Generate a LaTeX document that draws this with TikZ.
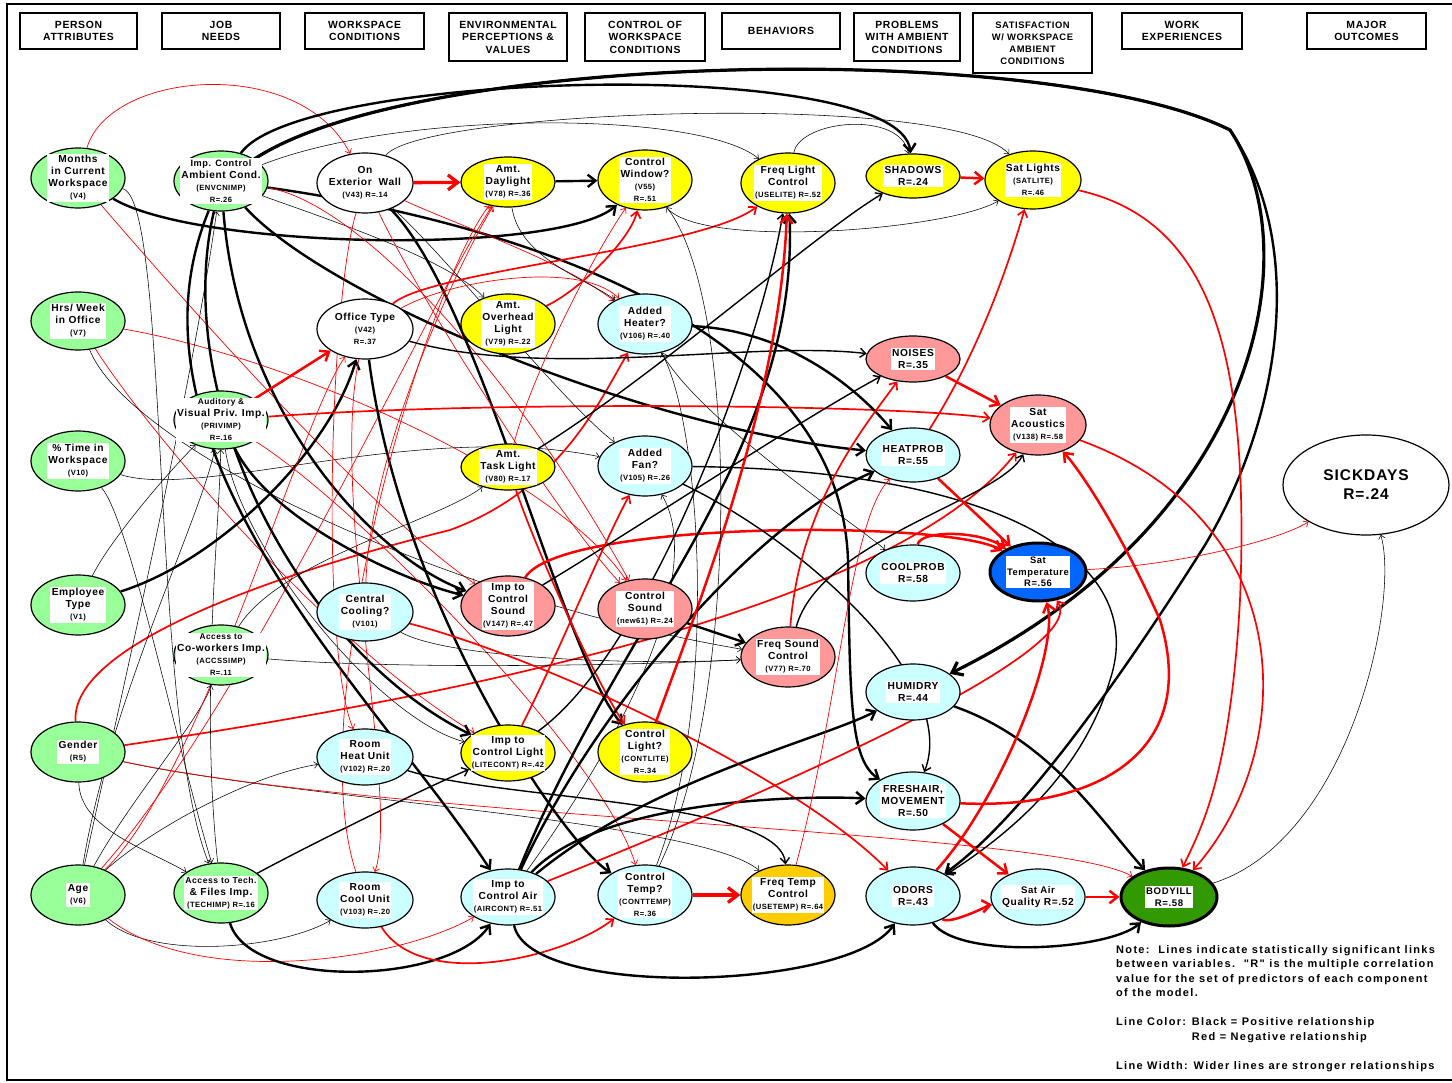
\documentclass[tikz,border=0pt]{standalone}
\usepackage{fontspec}
\setmainfont[LetterSpace=6]{Liberation Sans}
\newfontfamily\notefont[LetterSpace=12]{Liberation Sans}
\usetikzlibrary{shapes.geometric,arrows.meta,backgrounds}

\definecolor{cGrn}{HTML}{99FF99}
\definecolor{cCyn}{HTML}{CCFFFF}
\definecolor{cPnk}{HTML}{FF9999}
\definecolor{cYel}{HTML}{FFFF00}
\definecolor{cOrg}{HTML}{FFCC00}
\definecolor{cBlu}{HTML}{0066FF}
\definecolor{cDgr}{HTML}{339900}
\definecolor{cRed}{HTML}{FF0000}

\newcommand\sm[1]{{\fontsize{7.6}{9.5}\selectfont #1}}
% variable node: name, x, y, fill, width, height, label
\newcommand\vn[7]{%
  \node[var,fill=#4,minimum width=#5pt,minimum height=#6pt] (#1) at (#2,#3) {};
  \node[lab] at (#1.center) {#7};}

\tikzset{
  var/.style={ellipse, draw, line width=1.2pt, inner sep=0pt},
  lab/.style={fill=white, inner sep=1.3pt, align=center,
    font=\bfseries\fontsize{10.2}{12}\selectfont},
  hdr/.style={draw, line width=1.2pt, align=center, inner sep=0pt,
    font=\bfseries\fontsize{10.4}{12.5}\selectfont},
  lnk/.style={-{Straight Barb[length=2.5pt 2.2,width=5pt 3]}},
  p1/.style={lnk, line width=0.55pt},
  p2/.style={lnk, line width=1.4pt},
  p3/.style={lnk, line width=2.4pt},
  p4/.style={lnk, line width=3.2pt},
  n1/.style={lnk, line width=0.7pt, draw=cRed},
  n2/.style={lnk, line width=1.7pt, draw=cRed},
  n3/.style={lnk, line width=2.5pt, draw=cRed},
  n4/.style={lnk, line width=3.3pt, draw=cRed},
}

\begin{document}
\begin{tikzpicture}[x=1pt,y=-1pt]
\useasboundingbox (0,0) rectangle (1452,1083);
% frame
\draw[line width=1.6pt] (1460,4) -- (7,4) -- (7,1080) -- (1460,1080);

% column headers
\node[hdr,minimum width=117pt,minimum height=36pt] (h1) at (78.5,31) {PERSON\\ATTRIBUTES};
\node[hdr,minimum width=118pt,minimum height=36pt] (h2) at (221,31) {JOB\\NEEDS};
\node[hdr,minimum width=119pt,minimum height=36pt] (h3) at (364.5,31) {WORKSPACE\\CONDITIONS};
\node[hdr,minimum width=118pt,minimum height=48pt] (h4) at (508,37) {ENVIRONMENTAL\\PERCEPTIONS \&\\VALUES};
\node[hdr,minimum width=120pt,minimum height=48pt] (h5) at (645,37) {CONTROL OF\\WORKSPACE\\CONDITIONS};
\node[hdr,minimum width=118pt,minimum height=36pt] (h6) at (781,31) {BEHAVIORS};
\node[hdr,minimum width=106pt,minimum height=48pt] (h7) at (907,37) {PROBLEMS\\WITH AMBIENT\\CONDITIONS};
\node[hdr,minimum width=119pt,minimum height=60pt,font=\bfseries\fontsize{9.4}{12}\selectfont] (h8) at (1032.5,43) {SATISFACTION\\W/ WORKSPACE\\AMBIENT\\CONDITIONS};
\node[hdr,minimum width=120pt,minimum height=36pt] (h9) at (1182,31) {WORK\\EXPERIENCES};
\node[hdr,minimum width=119pt,minimum height=36pt] (h10) at (1366.5,31) {MAJOR\\OUTCOMES};

% person attributes
\vn{mon}{78}{178}{cGrn}{94}{60}{Months\\in Current\\Workspace\\\sm{(V4)}}
\vn{hrs}{78}{321}{cGrn}{94}{58}{Hrs/ Week\\in Office\\\sm{(V7)}}
\vn{ptime}{78}{461}{cGrn}{94}{60}{\% Time in\\Workspace\\\sm{(V10)}}
\vn{emp}{78}{605}{cGrn}{94}{60}{Employee\\Type\\\sm{(V1)}}
\vn{gen}{78}{752}{cGrn}{94}{60}{Gender\\\sm{(R5)}}
\vn{age}{78}{895}{cGrn}{94}{60}{Age\\\sm{(V6)}}
% job needs
\vn{imp}{221}{181}{cGrn}{94}{60}{\fontsize{9.2}{10.6}\selectfont Imp. Control\\Ambient Cond.\\\sm{(ENVCNIMP)}\\\sm{R=.26}}
\vn{aud}{221}{420}{cGrn}{94}{58}{\fontsize{8.3}{10.4}\selectfont Auditory \&\\Visual Priv. Imp.\\\sm{(PRIVIMP)}\\\sm{R=.16}}
\vn{acc}{221}{655}{cGrn}{94}{60}{\fontsize{8.3}{10.4}\selectfont Access to\\Co-workers Imp.\\\sm{(ACCSSIMP)}\\\sm{R=.11}}
\vn{tech}{221}{893}{cGrn}{94}{60}{\fontsize{8.6}{10.6}\selectfont Access to Tech.\\\& Files Imp.\\\sm{(TECHIMP) R=.16}}
% workspace conditions
\vn{ext}{365}{183}{white}{96}{60}{On\\Exterior\ \ Wall\\\sm{(V43) R=.14}}
\vn{off}{365}{329}{white}{96}{60}{Office Type\\\sm{(V42)}\\\sm{R=.37}}
\vn{cool}{365}{612}{cCyn}{96}{58}{Central\\Cooling?\\\sm{(V101)}}
\vn{rheat}{365}{757}{cCyn}{96}{56}{Room\\Heat Unit\\\sm{(V102) R=.20}}
\vn{rcool}{365}{900}{cCyn}{96}{56}{Room\\Cool Unit\\\sm{(V103) R=.20}}
% environmental perceptions
\vn{day}{508}{182}{cYel}{94}{50}{Amt.\\Daylight\\\sm{(V78) R=.36}}
\vn{over}{508}{324}{cYel}{94}{60}{Amt.\\Overhead\\Light\\\sm{(V79) R=.22}}
\vn{task}{508}{467}{cYel}{94}{46}{Amt.\\Task Light\\\sm{(V80) R=.17}}
\vn{isnd}{508}{606}{cPnk}{94}{60}{Imp to\\Control\\Sound\\\sm{(V147) R=.47}}
\vn{ilit}{508}{753}{cYel}{94}{56}{Imp to\\Control Light\\\sm{(LITECONT) R=.42}}
\vn{iair}{508}{897}{cCyn}{94}{56}{Imp to\\Control Air\\\sm{(AIRCONT) R=.51}}
% control
\vn{cwin}{645}{180}{cYel}{94}{60}{Control\\Window?\\\sm{(V55)}\\\sm{R=.51}}
\vn{heat}{645}{324}{cCyn}{94}{60}{Added\\Heater?\\\sm{(V106) R=.40}}
\vn{fan}{645}{466}{cCyn}{94}{60}{Added\\Fan?\\\sm{(V105) R=.26}}
\vn{csnd}{645}{609}{cPnk}{94}{60}{Control\\Sound\\\sm{(new61) R=.24}}
\vn{clit}{645}{752}{cYel}{94}{60}{Control\\Light?\\\sm{(CONTLITE)}\\\sm{R=.34}}
\vn{ctmp}{645}{895}{cCyn}{94}{60}{Control\\Temp?\\\sm{(CONTTEMP)}\\\sm{R=.36}}
% behaviors
\vn{flit}{788}{183}{cYel}{94}{60}{Freq Light\\Control\\\sm{(USELITE) R=.52}}
\vn{fsnd}{788}{657}{cPnk}{94}{60}{Freq Sound\\Control\\\sm{(V77) R=.70}}
\vn{ftmp}{788}{895}{cOrg}{94}{60}{Freq Temp\\Control\\\sm{(USETEMP) R=.64}}
% problems
\vn{shd}{913}{176}{cYel}{94}{44}{SHADOWS\\R=.24}
\vn{noi}{913}{359}{cPnk}{94}{46}{NOISES\\R=.35}
\vn{hpr}{913}{455}{cCyn}{94}{54}{HEATPROB\\R=.55}
\vn{cpr}{913}{573}{cCyn}{94}{56}{COOLPROB\\R=.58}
\vn{hum}{913}{692}{cCyn}{94}{56}{HUMIDRY\\R=.44}
\vn{fre}{913}{801}{cCyn}{94}{58}{FRESHAIR,\\MOVEMENT\\R=.50}
\vn{odo}{913}{896}{cCyn}{94}{58}{ODORS\\R=.43}
% satisfaction
\vn{slit}{1033}{180}{cYel}{96}{58}{Sat Lights\\\sm{(SATLITE)}\\\sm{R=.46}}
\vn{sacu}{1038}{425}{cPnk}{96}{60}{Sat\\Acoustics\\\sm{(V138) R=.58}}
\node[var,line width=3pt,fill=cBlu,minimum width=96pt,minimum height=58pt] (stmp) at (1038,572) {};
\node[lab,font=\bfseries\fontsize{9.4}{11.5}\selectfont] at (stmp.center) {Sat\\Temperature\\R=.56};
\vn{sair}{1038}{897}{cCyn}{94}{56}{\fontsize{9.6}{12}\selectfont Sat Air\\Quality R=.52}
% outcomes
\node[var,line width=3pt,fill=cDgr,minimum width=96pt,minimum height=58pt] (body) at (1169,897) {};
\node[lab,font=\bfseries\fontsize{9.6}{12}\selectfont] at (body.center) {BODYILL\\R=.58};
\node[var,fill=white,minimum width=166pt,minimum height=100pt] (sick) at (1366,485) {};
\node[font=\bfseries\fontsize{15.5}{19}\selectfont,align=center] at (sick.center) {SICKDAYS\\R=.24};

% legend
\node[anchor=north west,align=left,inner sep=0pt,font=\notefont\bfseries\fontsize{11}{14.5}\selectfont] (note) at (1116,945)
 {Note:\ \ Lines indicate statistically significant links\\
  between variables.\ \ "R" is the multiple correlation\\
  value for the set of predictors of each component\\
  of the model.\\[14.5pt]
  Line Color: Black = Positive relationship\\
  \phantom{Line Color: }Red = Negative relationship\\[14.5pt]
  Line Width: Wider lines are stronger relationships};

\begin{scope}[on background layer]
\fill[white] (0,0) rectangle (1452,1083);
% person attributes
\draw[n1] (mon) .. controls (110,70) and (300,55) .. (ext);
\draw[p3] (mon) .. controls (200,250) and (560,255) .. (cwin);
\draw[n1] (mon) .. controls (200,320) and (380,520) .. (isnd);
\draw[p1] (mon) .. controls (170,200) and (150,720) .. (tech);
\draw[n1] (hrs) .. controls (140,420) and (320,640) .. (ilit);
\draw[n1] (hrs) .. controls (300,360) and (560,480) .. (csnd);
\draw[p1] (hrs) .. controls (130,450) and (450,600) .. (fsnd);
\draw[p1] (ptime) .. controls (200,500) and (420,420) .. (fan);
\draw[p1] (ptime) .. controls (130,520) and (180,760) .. (tech);
\draw[p3] (emp) .. controls (220,560) and (330,450) .. (off);
\draw[p1] (emp) .. controls (110,540) and (170,470) .. (aud);
\draw[p1] (gen) .. controls (80,830) and (150,850) .. (tech);
\draw[p1] (gen) .. controls (300,800) and (700,820) .. (ftmp);
\draw[n1] (gen) .. controls (400,820) and (1050,830) .. (body);
\draw[n2] (gen) .. controls (500,690) and (900,600) .. (sacu);
\draw[n2] (gen) .. controls (70,650) and (250,580) .. (450,530) .. controls (560,490) and (600,400) .. (heat);
\draw[p1] (age) .. controls (120,700) and (190,400) .. (imp);
\draw[p1] (age) .. controls (110,700) and (200,520) .. (aud);
\draw[p1] (age) .. controls (130,800) and (200,720) .. (acc);
\draw[p1] (age) .. controls (150,830) and (250,775) .. (rheat);
\draw[p1] (age) .. controls (150,960) and (280,950) .. (rcool);
\draw[n1] (age) .. controls (250,700) and (430,300) .. (day);
\draw[n1] (age) .. controls (200,780) and (300,420) .. (off);
\draw[n1] (age) .. controls (200,990) and (400,960) .. (iair);
% job needs
\draw[p3] (imp) .. controls (300,70) and (900,55) .. (shd);
\draw[p4] (imp) .. controls (420,50) and (1050,40) .. (1230,130) .. controls (1310,250) and (1260,520) .. (hum);
\draw[p3] (imp) .. controls (420,50) and (1050,40) .. (1230,130) .. controls (1305,240) and (1285,410) .. (1205,545) .. controls (1120,680) and (1020,820) .. (odo);
\draw[p3] (imp) .. controls (500,220) and (840,320) .. (848,560) .. controls (850,700) and (850,760) .. (fre);
\draw[p3] (imp) .. controls (330,300) and (650,430) .. (hpr);
\draw[p3] (imp) .. controls (240,420) and (380,560) .. (isnd);
\draw[p3] (imp) .. controls (170,400) and (300,650) .. (ilit);
\draw[p3] (imp) .. controls (110,450) and (380,700) .. (iair);
\draw[p1] (imp) .. controls (330,220) and (450,260) .. (over);
\draw[p1] (imp) .. controls (400,110) and (700,110) .. (flit);
\draw[n1] (imp) .. controls (350,200) and (500,350) .. (csnd);
\draw[n3] (aud) -- (off);
\draw[n2] (aud) .. controls (500,400) and (900,405) .. (sacu);
\draw[p3] (aud) .. controls (270,520) and (400,580) .. (isnd);
\draw[p1] (aud) .. controls (240,550) and (380,720) .. (ilit);
\draw[n1] (aud) .. controls (350,500) and (600,750) .. (ctmp);
\draw[p1] (acc) .. controls (400,670) and (650,665) .. (fsnd);
\draw[p1] (acc) .. controls (280,560) and (440,520) .. (task);
\draw[p2] (tech) .. controls (300,850) and (420,790) .. (ilit);
\draw[p3] (tech) .. controls (250,990) and (450,985) .. (iair);
\draw[p1] (tech) .. controls (200,700) and (220,520) .. (aud);
% workspace conditions
\draw[n4] (ext) -- (day);
\draw[n1] (ext) .. controls (470,230) and (560,260) .. (heat);
\draw[p1] (ext) .. controls (450,260) and (560,400) .. (fan);
\draw[p3] (ext) .. controls (480,300) and (560,650) .. (clit);
\draw[n1] (ext) .. controls (330,300) and (320,650) .. (rheat);
\draw[n1] (ext) .. controls (420,300) and (560,520) .. (csnd);
\draw[p1] (ext) .. controls (420,110) and (950,90) .. (slit);
\draw[n2] (off) .. controls (430,270) and (700,250) .. (flit);
\draw[n1] (off) .. controls (450,280) and (580,260) .. (heat);
\draw[p2] (off) .. controls (550,380) and (750,340) .. (noi);
\draw[p3] (off) .. controls (400,600) and (560,840) .. (ctmp);
\draw[n1] (off) .. controls (330,500) and (400,800) .. (rcool);
\draw[p1] (cool) .. controls (450,660) and (650,665) .. (fsnd);
\draw[n2] (cool) .. controls (550,660) and (800,780) .. (odo);
\draw[n1] (cool) .. controls (370,450) and (460,260) .. (day);
\draw[p2] (rheat) .. controls (500,800) and (780,800) .. (ftmp);
\draw[n2] (rcool) .. controls (420,990) and (560,960) .. (ctmp);
\draw[n1] (rcool) .. controls (300,700) and (430,280) .. (day);
% environmental perceptions
\draw[p3] (day) -- (cwin);
\draw[p1] (day) .. controls (520,260) and (590,280) .. (heat);
\draw[n2] (over) .. controls (580,290) and (630,240) .. (cwin);
\draw[n1] (task) .. controls (530,380) and (590,260) .. (cwin);
\draw[p2] (task) .. controls (650,380) and (820,230) .. (shd);
\draw[n2] (task) .. controls (540,560) and (600,690) .. (clit);
\draw[n3] (isnd) .. controls (560,520) and (950,520) .. (stmp);
\draw[p2] (isnd) .. controls (650,520) and (800,420) .. (noi);
\draw[p2] (ilit) .. controls (650,650) and (760,350) .. (flit);
\draw[n2] (ilit) .. controls (560,650) and (600,550) .. (fan);
\draw[p3] (iair) .. controls (600,700) and (760,520) .. (hpr);
\draw[p3] (iair) .. controls (620,620) and (800,450) .. (flit);
\draw[p3] (iair) .. controls (650,780) and (820,740) .. (hum);
\draw[p3] (iair) .. controls (600,800) and (800,795) .. (fre);
\draw[p3] (iair) .. controls (530,1000) and (850,990) .. (odo);
\draw[n2] (iair) .. controls (800,780) and (1090,650) .. (stmp);
\draw[p1] (iair) .. controls (650,700) and (700,560) .. (fan);
% control
\draw[p1] (cwin) .. controls (700,250) and (950,230) .. (slit);
\draw[p3] (heat) .. controls (780,330) and (850,380) .. (hpr);
\draw[p1] (heat) .. controls (700,420) and (850,520) .. (cpr);
\draw[p2] (fan) .. controls (1000,470) and (1150,560) .. (1110,680) .. controls (1080,780) and (1000,840) .. (odo);
\draw[p2] (fan) .. controls (800,540) and (960,680) .. (fre);
\draw[p3] (csnd) -- (fsnd);
\draw[n3] (clit) .. controls (700,600) and (780,400) .. (flit);
\draw[n4] (ctmp) -- (ftmp);
\draw[p1] (ctmp) .. controls (740,700) and (740,300) .. (cwin);
\draw[p1] (ctmp) .. controls (720,700) and (700,420) .. (heat);
% behaviors
\draw[p1] (flit) .. controls (800,120) and (900,110) .. (shd);
\draw[n2] (fsnd) .. controls (800,500) and (870,420) .. (noi);
\draw[p2] (fsnd) .. controls (820,540) and (1000,500) .. (sacu);
\draw[n1] (ftmp) .. controls (840,700) and (850,520) .. (hpr);
% problems
\draw[n3] (shd) -- (slit);
\draw[n3] (noi) -- (sacu);
\draw[n3] (hpr) -- (stmp);
\draw[n2] (hpr) .. controls (980,350) and (1010,260) .. (slit);
\draw[n3] (cpr) .. controls (920,530) and (980,530) .. (stmp);
\draw[p3] (hum) .. controls (1050,740) and (1100,820) .. (body);
\draw[n3] (fre) -- (sair);
\draw[n3] (fre) .. controls (1100,810) and (1200,750) .. (1160,620) .. controls (1120,530) and (1080,470) .. (sacu);
\draw[n3] (odo) .. controls (950,925) and (990,905) .. (sair);
\draw[n3] (odo) .. controls (1000,800) and (1060,650) .. (stmp);
\draw[p3] (odo) .. controls (960,960) and (1110,950) .. (body);
% satisfaction
\draw[n2] (slit) .. controls (1210,220) and (1250,350) .. (1240,600) .. controls (1230,780) and (1200,830) .. (body);
\draw[n2] (sacu) .. controls (1300,520) and (1300,750) .. (body);
\draw[n3] (sair) -- (body);
\draw[n1] (stmp) .. controls (1180,565) and (1280,540) .. (sick);
\draw[p1] (body) .. controls (1350,840) and (1400,600) .. (sick);
\end{scope}
\end{tikzpicture}
\end{document}
